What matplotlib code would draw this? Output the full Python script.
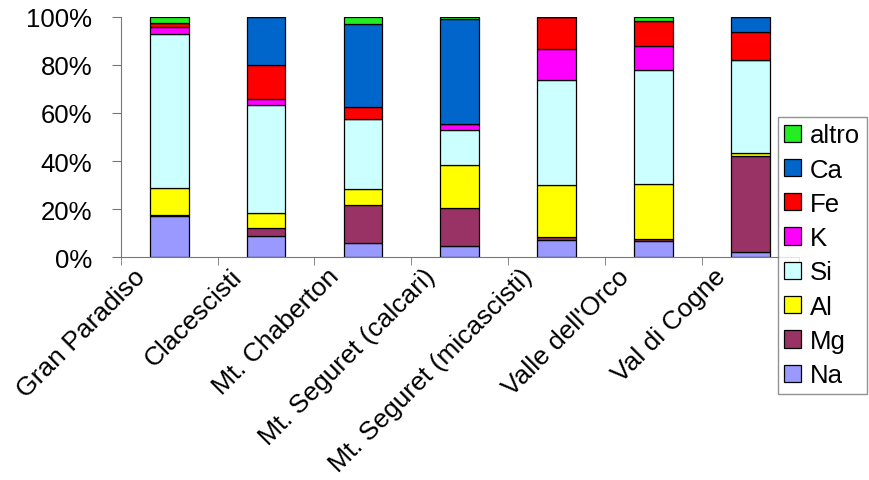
import matplotlib
matplotlib.use("Agg")
import matplotlib.pyplot as plt
import matplotlib.transforms as mtransforms
import numpy as np

plt.rcParams['font.family'] = ['Liberation Sans', 'DejaVu Sans']

sites = ['Gran Paradiso', 'Clacescisti', 'Mt. Chaberton', 'Mt. Seguret (calcari)',
         'Mt. Seguret (micascisti)', "Valle dell'Orco", 'Val di Cogne']

# percent composition, bottom to top
Na = [17.0, 8.7, 5.8, 4.4, 6.9, 6.7, 2.1]
Mg = [0.3, 3.5, 15.9, 16.1, 1.4, 0.6, 40.0]
Al = [11.5, 6.3, 6.5, 18.0, 21.5, 23.2, 1.4]
Si = [64.0, 45.0, 29.4, 14.3, 44.1, 47.3, 38.7]
K = [3.0, 2.4, 0.0, 2.5, 12.9, 10.1, 0.0]
Fe = [1.8, 14.3, 4.9, 0.0, 13.2, 10.4, 11.5]
Ca = [0.0, 19.8, 34.4, 43.7, 0.0, 0.0, 6.3]
altro = [2.4, 0.0, 3.1, 1.0, 0.0, 1.7, 0.0]

elements = ['Na', 'Mg', 'Al', 'Si', 'K', 'Fe', 'Ca', 'altro']
series = [Na, Mg, Al, Si, K, Fe, Ca, altro]
colors = ['#9999ff', '#993366', '#ffff00', '#ccffff', '#ff00ff', '#ff0000', '#0066cc', '#22ee22']

fig = plt.figure(figsize=(8.69, 4.81), dpi=100)
ax = fig.add_axes([0.139, 0.4636, 0.780, 0.499])

x = np.arange(len(sites))
bottom = np.zeros(len(sites))
for name, vals, col in zip(elements, series, colors):
    vals = np.array(vals)
    ax.bar(x, vals, 0.4, bottom=bottom, color=col, edgecolor='black', linewidth=0.9, label=name)
    bottom += vals

ax.set_xlim(-0.5, len(sites) - 0.5)
ax.set_ylim(0, 100)
ax.set_yticks(np.arange(0, 101, 20))
ax.set_yticklabels([f'{v}%' for v in range(0, 101, 20)], fontsize=18.5)
ax.set_xticks(x)
ax.set_xticklabels(sites, fontsize=19, rotation=45, ha='right', va='center', rotation_mode='anchor')
ax.set_xticks(np.arange(-0.5, len(sites), 1), minor=True)
ax.tick_params(axis='x', which='major', length=0, pad=0)
ax.tick_params(axis='x', which='minor', length=6, color='#777777')
ax.tick_params(axis='y', length=6.5, color='#777777', pad=14)

# shift the rotated labels so their ends sit left of the category centre
offset = mtransforms.ScaledTranslation(-20 / 72, -11 / 72, fig.dpi_scale_trans)
for lbl in ax.get_xticklabels():
    lbl.set_transform(lbl.get_transform() + offset)

for s in ['top', 'right']:
    ax.spines[s].set_visible(False)
for s in ['left', 'bottom']:
    ax.spines[s].set_color('#777777')

handles, labels = ax.get_legend_handles_labels()
leg = fig.legend(handles[::-1], labels[::-1], loc='upper left', bbox_to_anchor=(0.895, 0.755),
                 fontsize=18.5, frameon=True, fancybox=False, edgecolor='#777777',
                 handlelength=0.66, handleheight=0.66, handletextpad=0.35,
                 labelspacing=0.4, borderpad=0.25, borderaxespad=0)
leg.get_frame().set_linewidth(1)
leg.set_zorder(10)

fig.savefig('out.png', dpi=100)
